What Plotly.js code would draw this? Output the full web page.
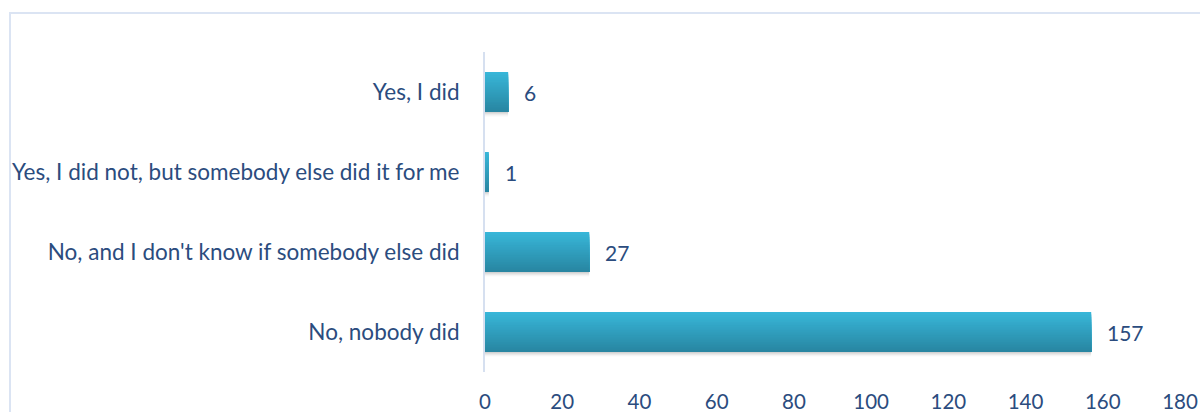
<!DOCTYPE html>
<html>
<head>
<meta charset="utf-8">
<script src="https://cdn.plot.ly/plotly-3.0.1.min.js"></script>
<style>
  html, body { margin: 0; padding: 0; background: #ffffff; }
  #wrap { position: relative; width: 1200px; height: 412px; overflow: hidden; }
  #frame { position: absolute; left: 9px; top: 12px; width: 1300px; height: 500px;
           border-left: 2px solid #dbe4f3; border-top: 2px solid #dbe4f3; }
  #chart { position: absolute; left: 0; top: 0; width: 1200px; height: 412px; }
</style>
</head>
<body>
<div id="wrap">
  <div id="frame"></div>
  <div id="chart"></div>
</div>
<script>
const categories = [
  "Yes, I did",
  "Yes, I did not, but somebody else did it for me",
  "No, and I don't know if somebody else did",
  "No, nobody did"
];
const counts = [6, 1, 27, 157];
const xTicks = [0, 20, 40, 60, 80, 100, 120, 140, 160, 180];

const textColor = "#2b4c7e";
const topColor = [56, 182, 216];
const bottomColor = [40, 134, 162];
const barWidth = 0.5;
const N = 24;
const traces = [];

// soft shadow below each bar
const shadowSteps = 5;
for (let s = 0; s < shadowSteps; s++) {
  traces.push({
    type: "bar", orientation: "h",
    x: counts, y: categories,
    offset: -barWidth / 2 + 0.012 + s * 0.012,
    width: barWidth,
    marker: { color: "rgba(0,0,0," + (0.05 - s * 0.008).toFixed(3) + ")", line: { width: 0 } },
    hoverinfo: "skip", showlegend: false
  });
}

// gradient: each layer runs from its own top edge down to the bar bottom
for (let i = 0; i < N; i++) {
  const t = i / (N - 1);
  const c = topColor.map((v, k) => Math.round(v + (bottomColor[k] - v) * t));
  const w = barWidth / N;
  traces.push({
    type: "bar", orientation: "h",
    x: counts, y: categories,
    offset: -barWidth / 2 + i * w,
    width: barWidth - i * w,
    marker: { color: "rgb(" + c.join(",") + ")", line: { width: 0 } },
    hoverinfo: "skip", showlegend: false
  });
}

const annotations = counts.map((v, i) => ({
  x: v, y: categories[i], xref: "x", yref: "y",
  text: String(v), showarrow: false,
  xanchor: "left", yanchor: "middle", xshift: 14,
  font: { family: "Lato, sans-serif", size: 21, color: textColor }
}));

const layout = {
  width: 1200, height: 412,
  margin: { l: 485, r: 20, t: 52, b: 40, pad: 0 },
  paper_bgcolor: "rgba(0,0,0,0)", plot_bgcolor: "rgba(0,0,0,0)",
  barmode: "overlay",
  showlegend: false,
  font: { family: "Lato, sans-serif", size: 20, color: textColor },
  xaxis: {
    range: [0, 180], tickvals: xTicks, ticktext: xTicks.map(String),
    showgrid: false, zeroline: false, showline: false,
    ticks: "outside", ticklen: 11, tickcolor: "rgba(0,0,0,0)",
    tickfont: { family: "Lato, sans-serif", size: 20.5, color: textColor },
    fixedrange: true
  },
  yaxis: {
    type: "category", categoryorder: "array", categoryarray: categories,
    range: [3.5, -0.5],
    showgrid: false, zeroline: false,
    showline: true, linecolor: "#d6e0f0", linewidth: 2,
    ticks: "outside", ticklen: 19, tickcolor: "rgba(0,0,0,0)",
    tickfont: { family: "Lato, sans-serif", size: 22.5, color: textColor },
    fixedrange: true
  },
  annotations: annotations
};

Plotly.newPlot("chart", traces, layout, { displayModeBar: false, staticPlot: true });
</script>
</body>
</html>
